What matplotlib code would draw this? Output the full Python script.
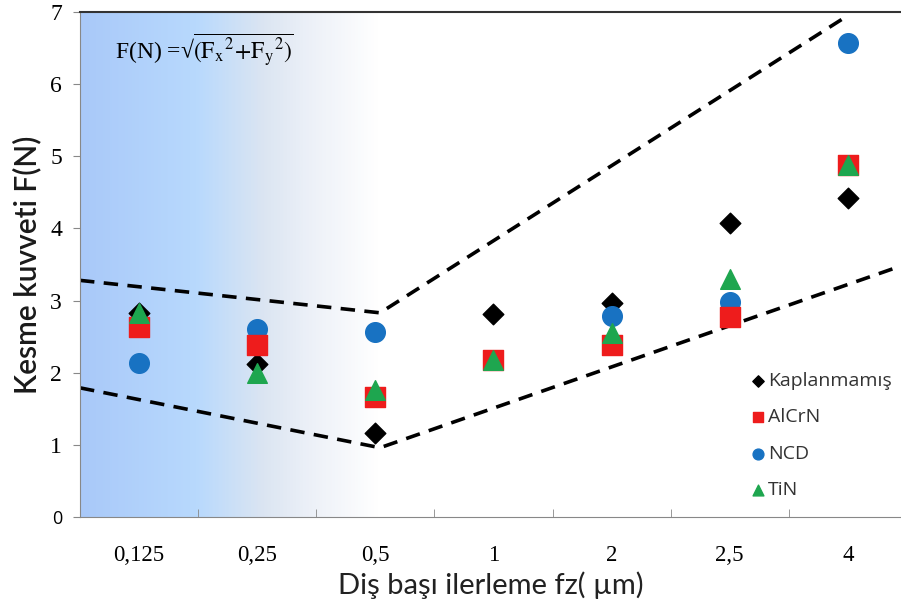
"""Kesme kuvveti - dis basi ilerleme grafigi."""

import matplotlib.pyplot as plt
import numpy as np
from matplotlib.colors import LinearSegmentedColormap

# kategoriler (fz, um)
categories = ["0,125", "0,25", "0,5", "1", "2", "2,5", "4"]

# kesme kuvveti F(N)
kaplanmamis = [2.83, 2.12, 1.16, 2.82, 2.97, 4.07, 4.42]
alcrn = [2.64, 2.38, 1.67, 2.18, 2.39, 2.77, 4.88]
ncd = [2.14, 2.60, 2.57, np.nan, 2.79, 2.98, 6.57]
tin = [2.83, 2.00, 1.76, 2.18, 2.55, 3.30, 4.88]

# kesikli zarf cizgileri (kategori indeksi, deger)
upper_x = [-0.5, 2.04, 5.97]
upper_y = [3.28, 2.83, 6.92]
lower_x = [-0.5, 2.04, 6.45]
lower_y = [1.79, 0.96, 3.48]

plt.rcParams["mathtext.fontset"] = "stix"

fig = plt.figure(figsize=(9.01, 6.10), dpi=100)
ax = fig.add_axes([0.0888, 0.1525, 0.9112, 0.8278])

# arka plan gradyani
grad_cmap = LinearSegmentedColormap.from_list(
    "bg",
    [(0.0, "#a9c9f9"), (0.14, "#b8d9fd"), (0.22, "#dbe5f2"),
     (0.28, "#edf1f8"), (0.36, "#ffffff"), (1.0, "#ffffff")],
)
ax.imshow(np.linspace(0, 1, 512)[None, :], cmap=grad_cmap, aspect="auto",
          extent=[-0.5, 6.5, 0, 7], zorder=0)

x = np.arange(len(categories))
ax.plot(upper_x, upper_y, color="black", linestyle=(0, (4, 2.6)), linewidth=2.6, zorder=2)
ax.plot(lower_x, lower_y, color="black", linestyle=(0, (4, 2.6)), linewidth=2.6, zorder=2)

ax.scatter(x, kaplanmamis, marker="D", s=110, color="black", label="Kaplanmamış", zorder=3)
ax.scatter(x, alcrn, marker="s", s=200, color="#ee1c1c", label="AlCrN", zorder=5)
ax.scatter(x, ncd, marker="o", s=200, color="#1872c2", label="NCD", zorder=4)
ax.scatter(x, tin, marker="^", s=200, color="#1ea64f", label="TiN", zorder=6)

ax.set_xlim(-0.5, 6.45)
ax.set_ylim(0, 7)
ax.set_xticks(x)
ax.set_xticklabels(categories, fontfamily="Liberation Serif", fontsize=16.5)
ax.set_xticks(np.arange(0.5, 6, 1), minor=True)
ax.tick_params(axis="x", which="major", length=0, pad=20)
ax.tick_params(axis="x", which="minor", direction="in", length=6, color="#888888")
ax.set_yticks(range(8))
ax.set_yticklabels([str(v) for v in range(8)])
ax.tick_params(axis="y", length=5, color="#888888", pad=8)
y_ticks = ax.yaxis.get_major_ticks()
for tick in y_ticks:
    tick.label1.set_fontfamily("Liberation Serif")
    tick.label1.set_fontsize(17)
y_ticks[0].label1.set_fontfamily("Open Sans")
y_ticks[0].label1.set_fontsize(13)

for side in ["left", "bottom"]:
    ax.spines[side].set_color("#888888")
ax.spines["top"].set_color("#333333")
ax.spines["top"].set_linewidth(1.5)
ax.spines["right"].set_visible(False)

ax.set_xlabel("Diş başı ilerleme fz( µm)", fontfamily="Lato", fontsize=21,
              color="#222222", labelpad=4)
ax.set_ylabel("Kesme kuvveti F(N)", fontfamily="Lato", fontsize=21.5,
              fontweight="semibold", color="#1a1a1a", labelpad=6)

ax.text(0.043, 0.925,
        r"F(N) =√$\overline{(\mathrm{F_x}^{2}\!+\!\mathrm{F_y}^{2})}$",
        transform=ax.transAxes, fontsize=17, va="center", ha="left",
        family=["Liberation Serif", "DejaVu Serif"])

legend = ax.legend(loc="upper left", bbox_to_anchor=(0.781, 0.322), frameon=False,
                   prop={"family": "Open Sans", "size": 14}, handletextpad=-0.5,
                   labelspacing=0.95, markerscale=0.55, scatterpoints=1)
for text in legend.get_texts():
    text.set_color("#333333")

fig.savefig("out.png", dpi=100)
